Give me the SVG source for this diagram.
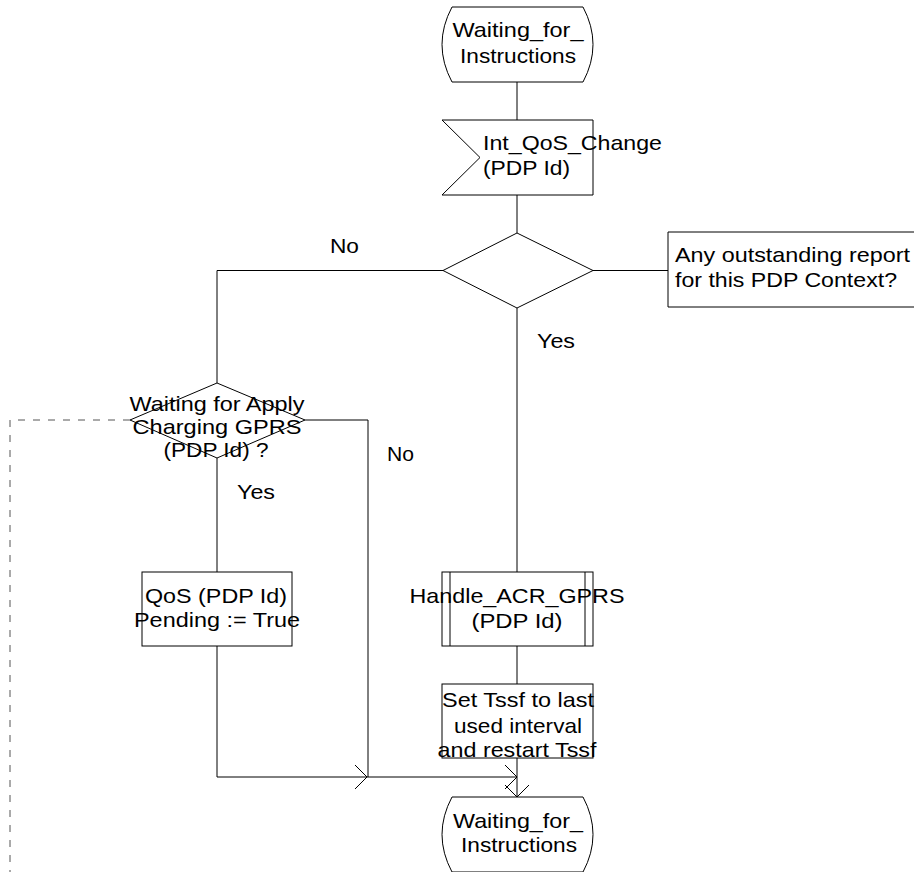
<svg xmlns="http://www.w3.org/2000/svg" width="914" height="872" viewBox="0 0 914 872">
<style>
.s{fill:#fff;stroke:#000;stroke-width:1}
.c{fill:none;stroke:#000;stroke-width:1}
.d{fill:none;stroke:#555;stroke-width:1;stroke-dasharray:7,8}
text{font-family:"Liberation Sans",Arial,sans-serif;font-size:21px;fill:#000}
.m{text-anchor:middle}
</style>
<defs>
<marker id="ar" viewBox="0 0 12 24" refX="12" refY="12" markerWidth="12" markerHeight="24" markerUnits="userSpaceOnUse" orient="auto">
<path d="M0,0 L12,12 L0,24" fill="none" stroke="#000" stroke-width="1"/>
</marker>
</defs>
<rect width="914" height="872" fill="#fff"/>
<g id="connectors">
<path class="c" d="M517,82 V120"/>
<path class="c" d="M517,195 V233"/>
<path class="c" d="M593,270.5 H668"/>
<path class="c" d="M443,270.5 H217 V383"/>
<path class="c" d="M517,308 V572"/>
<path class="c" d="M517,646 V684"/>
<path class="c" d="M517,758 V797" marker-end="url(#ar)"/>
<path class="c" d="M305,420 H368 V777"/>
<path class="d" d="M130,420 H10 V872"/>
<path class="c" d="M217,458 V572"/>
<path class="c" d="M217,646 V777 H367" marker-end="url(#ar)"/>
<path class="c" d="M367,777 H517" marker-end="url(#ar)"/>
</g>
<g id="state_top">
<path class="s" d="M452,7 L583,7 Q603,44.5 583,82 L452,82 Q432,44.5 452,7 Z"/>
<text class="m" x="518" y="37" textLength="131" lengthAdjust="spacingAndGlyphs">Waiting_for_</text>
<text class="m" x="518" y="63" textLength="116" lengthAdjust="spacingAndGlyphs">Instructions</text>
</g>
<g id="signal_in">
<path class="s" d="M442,120 L593,120 L593,195 L442,195 L480,157.5 Z"/>
<text x="483" y="150" textLength="179" lengthAdjust="spacingAndGlyphs">Int_QoS_Change</text>
<text x="483" y="175" textLength="87" lengthAdjust="spacingAndGlyphs">(PDP Id)</text>
</g>
<g id="decision1">
<path class="s" d="M517,233 L593,270.5 L517,308 L443,270.5 Z"/>
<text x="330" y="253" textLength="29" lengthAdjust="spacingAndGlyphs">No</text>
<text x="537" y="348" textLength="38" lengthAdjust="spacingAndGlyphs">Yes</text>
</g>
<g id="comment">
<path class="s" d="M920,232 H668 V307 H920"/>
<text x="675" y="262" textLength="235" lengthAdjust="spacingAndGlyphs">Any outstanding report</text>
<text x="675" y="287" textLength="222" lengthAdjust="spacingAndGlyphs">for this PDP Context?</text>
</g>
<g id="decision2">
<path class="s" d="M217,383 L305,420 L217,458 L130,420 Z"/>
<text class="m" x="217" y="411" textLength="175" lengthAdjust="spacingAndGlyphs">Waiting for Apply</text>
<text class="m" x="217" y="434" textLength="169" lengthAdjust="spacingAndGlyphs">Charging GPRS</text>
<text class="m" x="216" y="457" textLength="105" lengthAdjust="spacingAndGlyphs">(PDP Id) ?</text>
<text x="387" y="461" textLength="27" lengthAdjust="spacingAndGlyphs">No</text>
<text x="237" y="499" textLength="38" lengthAdjust="spacingAndGlyphs">Yes</text>
</g>
<g id="task_qos">
<rect class="s" x="142" y="572" width="150" height="74"/>
<text class="m" x="216" y="603" textLength="142" lengthAdjust="spacingAndGlyphs">QoS (PDP Id)</text>
<text class="m" x="217" y="627" textLength="166" lengthAdjust="spacingAndGlyphs">Pending := True</text>
</g>
<g id="proc_handle">
<rect class="s" x="442" y="572" width="151" height="74"/>
<path class="c" d="M450,572 V646 M585,572 V646"/>
<text class="m" x="517" y="603" textLength="215" lengthAdjust="spacingAndGlyphs">Handle_ACR_GPRS</text>
<text class="m" x="517" y="628" textLength="91" lengthAdjust="spacingAndGlyphs">(PDP Id)</text>
</g>
<g id="task_tssf">
<rect class="s" x="442" y="684" width="151" height="74"/>
<text class="m" x="518" y="707" textLength="152" lengthAdjust="spacingAndGlyphs">Set Tssf to last</text>
<text class="m" x="518" y="733" textLength="128" lengthAdjust="spacingAndGlyphs">used interval</text>
<text class="m" x="517" y="757" textLength="159" lengthAdjust="spacingAndGlyphs">and restart Tssf</text>
</g>
<g id="state_bottom">
<path class="s" d="M452,797 L583,797 Q603,834.5 583,872 L452,872 Q432,834.5 452,797 Z"/>
<text class="m" x="518" y="828" textLength="130" lengthAdjust="spacingAndGlyphs">Waiting_for_</text>
<text class="m" x="519" y="852" textLength="116" lengthAdjust="spacingAndGlyphs">Instructions</text>
</g>
</svg>
